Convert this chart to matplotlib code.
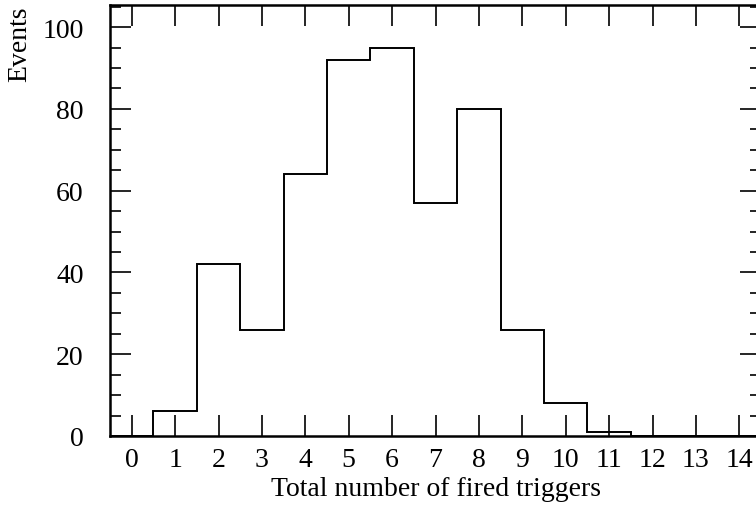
import numpy as np
import matplotlib
matplotlib.use("Agg")
import matplotlib.pyplot as plt
from matplotlib.ticker import MultipleLocator

# bin centres and counts
n_triggers = [0, 1, 2, 3, 4, 5, 6, 7, 8, 9, 10, 11, 12, 13, 14]
events = [0, 6, 42, 26, 64, 92, 95, 57, 80, 26, 8, 1, 0, 0, 0]

plt.rcParams['font.family'] = ['Liberation Serif', 'DejaVu Serif']

fig = plt.figure(figsize=(7.56, 5.06), dpi=100)
# right edge runs slightly past the image, as in the reference
ax = fig.add_axes([110 / 756, 1 - 437 / 506, 651 / 756, 431 / 506])

edges = np.arange(-0.5, 15.0, 1.0)
ax.stairs(events, edges, color='black', linewidth=1.4)

ax.set_xlim(-0.5, 14.5)
ax.set_ylim(0, 105.4)
ax.set_xticks(n_triggers)
ax.yaxis.set_major_locator(MultipleLocator(20))
ax.yaxis.set_minor_locator(MultipleLocator(5))

ax.tick_params(axis='both', which='both', direction='in', top=True, right=True,
               labelsize=20, width=1.2)
ax.tick_params(axis='both', which='major', length=15)
ax.tick_params(axis='y', which='minor', length=8)
ax.tick_params(axis='y', which='major', pad=19)
ax.tick_params(axis='x', which='major', pad=8)
for s in ax.spines.values():
    s.set_linewidth(1.8)

ax.set_xlabel('Total number of fired triggers', fontsize=20, labelpad=3)
ax.set_ylabel('Events', fontsize=20, loc='top', labelpad=7)

fig.savefig('out.png', dpi=100)
